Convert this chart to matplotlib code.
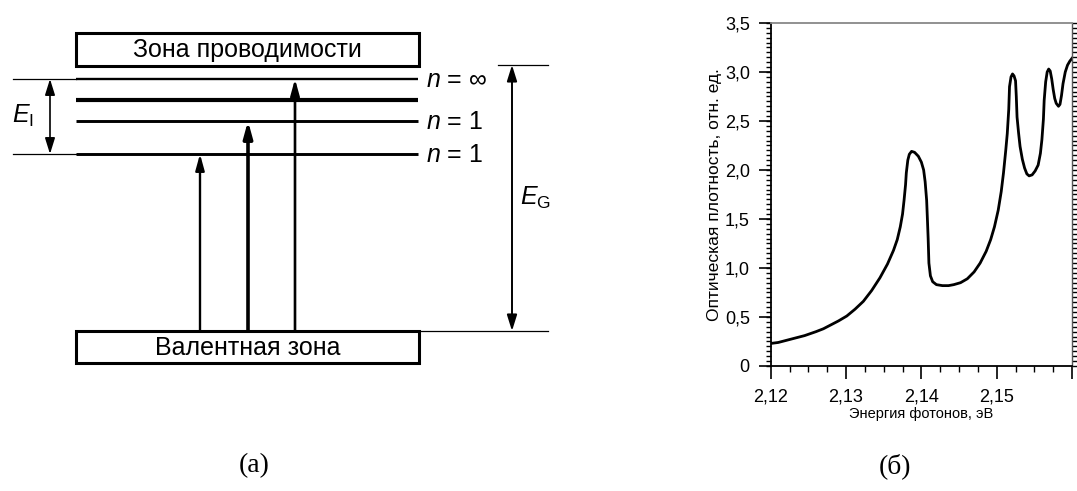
import matplotlib
matplotlib.use('Agg')
import matplotlib.pyplot as plt
from matplotlib.patches import Rectangle
from matplotlib.ticker import FixedLocator, MultipleLocator

plt.rcParams['font.family'] = ['Liberation Sans', 'DejaVu Sans']
plt.rcParams['mathtext.fontset'] = 'custom'
plt.rcParams['mathtext.rm'] = 'Liberation Sans'
plt.rcParams['mathtext.it'] = 'Liberation Sans:italic'

# --- energy level scheme (a) ---
band_names = ['Зона проводимости', 'Валентная зона']
level_y = [79, 100, 121, 154]
level_lw = [1.7, 3.0, 2.1, 2.1]
level_labels = ['$n$ = ∞', '', '$n$ = 1', '$n$ = 1']
transition_x = [200, 248, 295]
transition_top = [154, 121, 79]
transition_lw = [1.7, 2.6, 1.9]

# --- optical density spectrum (б) ---
energy = [2.1200, 2.1210, 2.1220, 2.1230, 2.1245, 2.1260, 2.1270, 2.1280, 2.1290,
          2.1301, 2.1312, 2.1323, 2.1334, 2.1345, 2.1355, 2.1363, 2.1368, 2.1372,
          2.1375, 2.1377, 2.1379, 2.1380, 2.1382, 2.1384, 2.1387, 2.1391, 2.1396,
          2.1400, 2.1403, 2.1405, 2.1407, 2.1408, 2.1409, 2.1410, 2.1412, 2.1415,
          2.1420, 2.1428, 2.1436, 2.1443, 2.1452, 2.1461, 2.1470, 2.1478, 2.1486,
          2.1492, 2.1497, 2.1502, 2.1506, 2.1509, 2.1512, 2.1514, 2.1516, 2.1517,
          2.1519, 2.1521, 2.1523, 2.1525, 2.1526, 2.1527, 2.1529, 2.1531, 2.1534,
          2.1537, 2.1540, 2.1543, 2.1547, 2.1551, 2.1555, 2.1558, 2.1560, 2.1562,
          2.1563, 2.1565, 2.1567, 2.1569, 2.1571, 2.1573, 2.1575, 2.1577, 2.1579,
          2.1582, 2.1584, 2.1586, 2.1588, 2.1591, 2.1594, 2.1597, 2.1600]
density = [0.23, 0.24, 0.26, 0.28, 0.31, 0.35, 0.38, 0.42, 0.46,
           0.51, 0.58, 0.66, 0.77, 0.90, 1.04, 1.18, 1.29, 1.42,
           1.55, 1.69, 1.85, 1.97, 2.10, 2.16, 2.19, 2.18, 2.14,
           2.08, 2.00, 1.88, 1.69, 1.50, 1.30, 1.05, 0.92, 0.86,
           0.83, 0.82, 0.82, 0.83, 0.85, 0.89, 0.96, 1.05, 1.17,
           1.29, 1.42, 1.59, 1.78, 1.97, 2.20, 2.37, 2.62, 2.85,
           2.95, 2.98, 2.96, 2.91, 2.75, 2.54, 2.38, 2.24, 2.11,
           2.02, 1.96, 1.94, 1.95, 1.99, 2.05, 2.17, 2.31, 2.52,
           2.71, 2.90, 3.00, 3.03, 3.01, 2.93, 2.82, 2.73, 2.68,
           2.65, 2.67, 2.76, 2.88, 3.00, 3.07, 3.11, 3.14]
x_ticks = [2.12, 2.13, 2.14, 2.15, 2.16]
x_labels = ['2,12', '2,13', '2,14', '2,15', '']
y_ticks = [0, 0.5, 1.0, 1.5, 2.0, 2.5, 3.0, 3.5]
y_labels = ['0', '0,5', '1,0', '1,5', '2,0', '2,5', '3,0', '3,5']

fig = plt.figure(figsize=(10.77, 4.91), dpi=100)

# diagram drawn in pixel-like units over the whole figure
ax = fig.add_axes([0, 0, 1, 1])
ax.set_xlim(0, 1077)
ax.set_ylim(491, 0)
ax.axis('off')

left, right = 76, 419
ax.add_patch(Rectangle((left, 33), right - left, 33, fill=False, lw=2.2, ec='black'))
ax.add_patch(Rectangle((left, 331), right - left, 32, fill=False, lw=2.2, ec='black'))
ax.text((left + right) / 2, 50, band_names[0], ha='center', va='center', fontsize=18)
ax.text((left + right) / 2, 348, band_names[1], ha='center', va='center', fontsize=18)

for y, lw, lab in zip(level_y, level_lw, level_labels):
    ax.plot([left, right - 1], [y, y], color='black', lw=lw, solid_capstyle='butt')
    if lab:
        ax.text(426, y + 1, lab, ha='left', va='center', fontsize=18)

# thin guide lines for E_I and E_G
ax.plot([13, left], [level_y[0], level_y[0]], color='black', lw=0.9)
ax.plot([13, left], [level_y[3], level_y[3]], color='black', lw=0.9)
ax.plot([498, 548], [65, 65], color='black', lw=0.9)
ax.plot([right, 548], [331, 331], color='black', lw=0.9)

head = '-|>,head_length=0.8,head_width=0.22'
both = '<|-|>,head_length=0.8,head_width=0.25'
for x, top, lw in zip(transition_x, transition_top, transition_lw):
    ax.annotate('', xy=(x, top), xytext=(x, 331),
                arrowprops=dict(arrowstyle=head, lw=lw, color='black',
                                mutation_scale=12, shrinkA=0, shrinkB=0))

ax.annotate('', xy=(50, level_y[0]), xytext=(50, level_y[3]),
            arrowprops=dict(arrowstyle=both, lw=1.2, color='black',
                            mutation_scale=12, shrinkA=0, shrinkB=0))
ax.annotate('', xy=(512, 65), xytext=(512, 331),
            arrowprops=dict(arrowstyle=both, lw=1.4, color='black',
                            mutation_scale=12, shrinkA=0, shrinkB=0))
ax.text(12, 116, r'$E_\mathrm{I}$', ha='left', va='center', fontsize=18)
ax.text(520, 198, r'$E_\mathrm{G}$', ha='left', va='center', fontsize=18)

ax.text(254, 466, '(а)', ha='center', va='center', fontsize=20,
        family='Liberation Serif')
ax.text(895, 466, '(б)', ha='center', va='center', fontsize=20,
        family='Liberation Serif')

# spectrum panel
ax2 = fig.add_axes([0.7156, 0.2546, 0.2798, 0.6986])
ax2.plot(energy, density, color='black', lw=2.0)
ax2.set_xlim(2.12, 2.16)
ax2.set_ylim(0, 3.5)

ax2.xaxis.set_major_locator(FixedLocator(x_ticks))
ax2.set_xticklabels(x_labels)
ax2.xaxis.set_minor_locator(MultipleLocator(0.0025))
ax2.yaxis.set_major_locator(FixedLocator(y_ticks))
ax2.set_yticklabels(y_labels)
ax2.yaxis.set_minor_locator(MultipleLocator(0.05))
ax2.yaxis.remove_overlapping_locs = False

ax2.tick_params(axis='both', which='major', direction='out', length=9, width=1.2,
                labelsize=13)
ax2.tick_params(axis='x', which='major', pad=7)
ax2.tick_params(axis='y', which='major', pad=6)
ax2.tick_params(axis='x', which='minor', direction='out', length=4, width=1.0)
ax2.tick_params(axis='y', which='minor', direction='out', length=3.5, width=1.0,
                right=True)

for side in ['left', 'bottom']:
    ax2.spines[side].set_linewidth(1.3)
ax2.spines['right'].set_linewidth(1.0)
ax2.spines['right'].set_color('#555555')
ax2.spines['top'].set_linewidth(1.3)
ax2.spines['top'].set_color('#888888')

ax2.set_xlabel('Энергия фотонов, эВ', fontsize=10.5, labelpad=1)
ax2.set_ylabel('Оптическая плотность, отн. ед.', fontsize=12.5, labelpad=2)

fig.savefig('out.png', dpi=100)
